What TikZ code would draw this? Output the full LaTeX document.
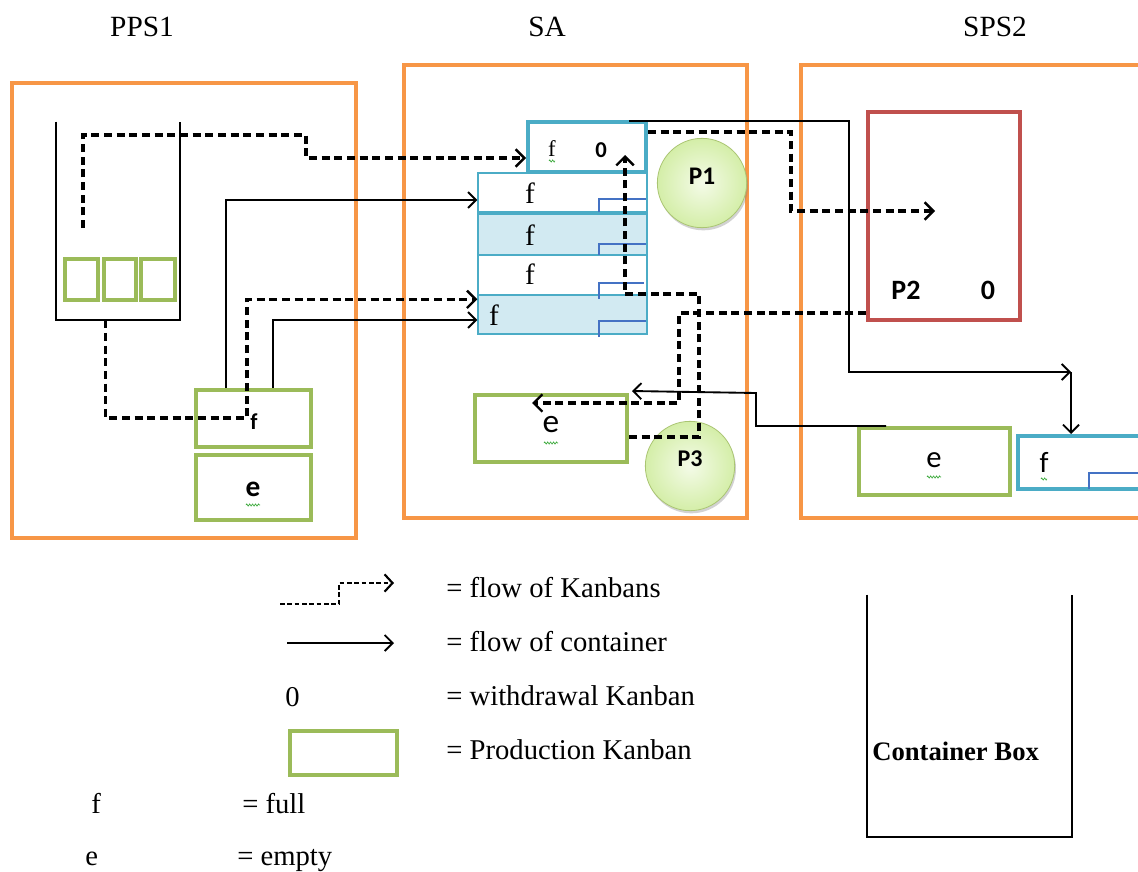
\documentclass[tikz,border=0pt]{standalone}
\usepackage{fontspec}
\setmainfont{Liberation Serif}
\newfontfamily\calib{Carlito}
\usetikzlibrary{arrows.meta,fit,shadows,decorations.pathmorphing,calc}
\definecolor{orng}{RGB}{247,150,70}
\definecolor{grn}{RGB}{155,187,89}
\definecolor{aqua}{RGB}{75,172,198}
\definecolor{ltblue}{RGB}{210,234,242}
\definecolor{dkblue}{RGB}{68,114,196}
\definecolor{redbox}{RGB}{192,80,77}
\definecolor{ballA}{RGB}{244,251,232}
\definecolor{ballB}{RGB}{212,238,168}
\definecolor{squigc}{RGB}{60,170,60}
\begin{document}
\begin{tikzpicture}[x=0.75pt,y=-0.75pt,
  station/.style={draw=orng,line width=3pt,inner sep=0pt},
  pkan/.style={draw=grn,line width=3pt,inner sep=0pt},
  cont/.style={draw=aqua,line width=3pt,inner sep=0pt},
  stackrow/.style={draw=aqua,line width=1pt,inner sep=0pt},
  redk/.style={draw=redbox,line width=3pt,inner sep=0pt},
  hidden/.style={inner sep=0pt},
  tab/.style={draw=dkblue,line width=0.8pt},
  ball/.style={circle,draw=grn!85,line width=0.6pt,inner color=ballA,outer color=ballB,minimum size=67pt,
    drop shadow={opacity=0.35,shadow xshift=1pt,shadow yshift=-2pt,fill=gray}},
  kflow/.style={dash pattern=on 6pt off 3.5pt,line width=2.4pt,-{Straight Barb[length=6.5pt,width=13pt,line width=1.8pt]}},
  cflow/.style={line width=1.4pt,-{Straight Barb[length=6pt,width=12pt]}},
  ttl/.style={font=\fontsize{22}{26}\selectfont},
  legtxt/.style={font=\fontsize{21.5}{24}\selectfont,anchor=base west,inner sep=0pt},
  cb/.style={font=\calib\bfseries\fontsize{17}{20}\selectfont},
  squig/.style={draw=squigc,line width=0.5pt,decorate,decoration={zigzag,segment length=2.2pt,amplitude=0.8pt}},
]
\useasboundingbox (0,0) rectangle (1138,871);
\fill[white] (0,0) rectangle (1138,871);

% titles
\node[ttl,anchor=base] (tpps) at (142,36) {PPS1};
\node[ttl,anchor=base] (tsa) at (547,36) {SA};
\node[ttl,anchor=base] (tsps) at (995,36) {SPS2};

% stations
\node[station,fit={(12,83)(356,538)}] (pps1) {};
\node[station,fit={(404,65)(747,518)}] (sa) {};
\node[station,fit={(801,65)(1150,518)}] (sps2) {};

% PPS1 bin
\node[hidden,fit={(56,122)(180,320)}] (bin) {};
\draw[line width=1.2pt] (bin.north west) |- (bin.south east) -- (bin.north east);
\node[pkan,fit={(65,259)(98,300)}] (sq1) {};
\node[pkan,fit={(104,259)(136,300)}] (sq2) {};
\node[pkan,fit={(141,259)(175,300)}] (sq3) {};

\node[pkan,fit={(196,390)(311,447)}] (pf) {};
\node[cb] (pflab) at (254,422) {f};
\node[pkan,fit={(196,455)(311,520)}] (pe) {};
\node[cb,font=\calib\bfseries\fontsize{22}{24}\selectfont] (pelab) at (253,489) {e};
\draw[squig] (246,505) -- (260,505);

% SA stack
\node[stackrow,fill=white,fit={(478,173)(647,212)}] (row1) {};
\node[stackrow,fill=ltblue,fit={(478,214)(647,255)}] (row2) {};
\node[stackrow,fill=white,fit={(478,255)(647,295)}] (row3) {};
\node[stackrow,fill=ltblue,fit={(478,295)(647,334)}] (row4) {};
\draw[aqua,line width=2.4pt] (row1.south west) -- (row1.south east);
\draw[tab] (599,212) |- (646,199);
\draw[tab] (599,255) |- (646,244);
\draw[tab] (599,299) |- (644,283);
\draw[tab] (599,337) |- (646,321);
\node[font=\fontsize{22}{24}\selectfont] (r1f) at (530,193) {f};
\node[font=\fontsize{22}{24}\selectfont] (r2f) at (530,235) {f};
\node[font=\fontsize{22}{24}\selectfont] (r3f) at (530,274) {f};
\node[font=\fontsize{22}{24}\selectfont] (r4f) at (494,315) {f};

\node[cont,fill=white,fit={(528,122)(646,172)}] (topk) {};
\node[font=\fontsize{17}{20}\selectfont] (tkf) at (552,149) {f};
\draw[squig] (549,161) -- (555,161);
\node[cb] (tk0) at (601,150) {0};

% SA balls and e box
\node[ball] (p1) at (702,183) {};
\node[cb,font=\calib\bfseries\fontsize{19}{22}\selectfont] at (702,176) {P1};
\node[ball] (p3) at (690,466) {};
\node[cb,font=\calib\bfseries\fontsize{18}{22}\selectfont] at (690,459) {P3};
\node[pkan,fit={(475,395)(627,462)}] (se) {};
\node[font=\calib\fontsize{25}{28}\selectfont] (selab) at (551,425) {e};
\draw[squig] (544,443) -- (558,443);

% SPS2
\node[redk,fit={(868,112)(1020,320)}] (p2) {};
\node[cb,font=\calib\bfseries\fontsize{21}{24}\selectfont] (p2lab) at (906,290) {P2};
\node[cb,font=\calib\bfseries\fontsize{21}{24}\selectfont] (p2zero) at (988,290) {0};
\node[pkan,fit={(859,428)(1010,495)}] (s2e) {};
\node[font=\calib\fontsize{23}{26}\selectfont] (s2elab) at (934,460) {e};
\draw[squig] (927,477) -- (941,477);
\node[cont,fit={(1018,436)(1150,489)}] (sf) {};
\draw[tab] (1089,489) |- (1140,473);
\node[font=\calib\fontsize{22}{26}\selectfont] (sflab) at (1044,462) {f};
\draw[squig] (1041,479) -- (1047,479);

% Kanban flows (dashed)
\coordinate (k1s) at (83,228);
\draw[kflow] (k1s) |- (306,135) |- ($(topk.west)+(0,11)$);
\draw[kflow] ($(bin.south west)+(50,0)$) |- (247,418) |- ($(row4.north west)+(0,5)$);
\coordinate (k6e) at (935,211);
\draw[kflow] ($(topk.north east)+(0,12)$) -| (791,211) -- (k6e);
\coordinate (k7e) at (532,403);
\draw[kflow] ($(p2.south west)+(0,-9)$) -| (679,403) -- (k7e);
\coordinate (k8e) at (625,155);
\draw[kflow] ($(se.east)+(0,8.5)$) -| (699,294) -| (k8e);

% container flows (solid)
\draw[cflow] ($(pf.north west)+(32,0)$) |- ($(row1.west)+(0,7.5)$);
\draw[cflow] ($(pf.north west)+(79,0)$) |- ($(row4.west)+(0,5.5)$);
\coordinate (cA) at (1071,372);
\draw[cflow] ($(topk.north east)+(-19,1)$) -| (849,372) -- (cA);
\draw[cflow] (cA) -- (sf.north -| cA);
\draw[cflow] ($(s2e.north west)+(29,0)$) -| (756,393) -- ($(se.north east)+(3,-2)$);

% legend
\coordinate (l1a) at (280,604);
\coordinate (l1b) at (394,583);
\draw[dash pattern=on 3.5pt off 2pt,line width=1.5pt,-{Straight Barb[length=6pt,width=13pt,line width=1.6pt]}] (l1a) -| (339,583) -- (l1b);
\node[legtxt] (lt1) at (446,597) {= flow of Kanbans};
\coordinate (l2a) at (287,643);
\coordinate (l2b) at (394,643);
\draw[cflow] (l2a) -- (l2b);
\node[legtxt] (lt2) at (446,651) {= flow of container};
\node[legtxt] (l3) at (285,706) {0};
\node[legtxt] (lt3) at (446,705) {= withdrawal Kanban};
\node[pkan,fit={(290,731)(397,775)}] (l4) {};
\node[legtxt] (lt4) at (446,759) {= Production Kanban};
\node[legtxt] (l5) at (91,813) {f};
\node[legtxt] (lt5) at (242,813) {= full};
\node[legtxt] (l6) at (85,865) {e};
\node[legtxt] (lt6) at (237,865) {= empty};

% container box
\node[hidden,fit={(867,595)(1072,837)}] (cbox) {};
\draw[line width=1.6pt] (cbox.north west) |- (cbox.south east) -- (cbox.north east);
\node[legtxt,font=\bfseries\fontsize{20}{24}\selectfont] (cblab) at (872,760) {Container Box};
\end{tikzpicture}
\end{document}
